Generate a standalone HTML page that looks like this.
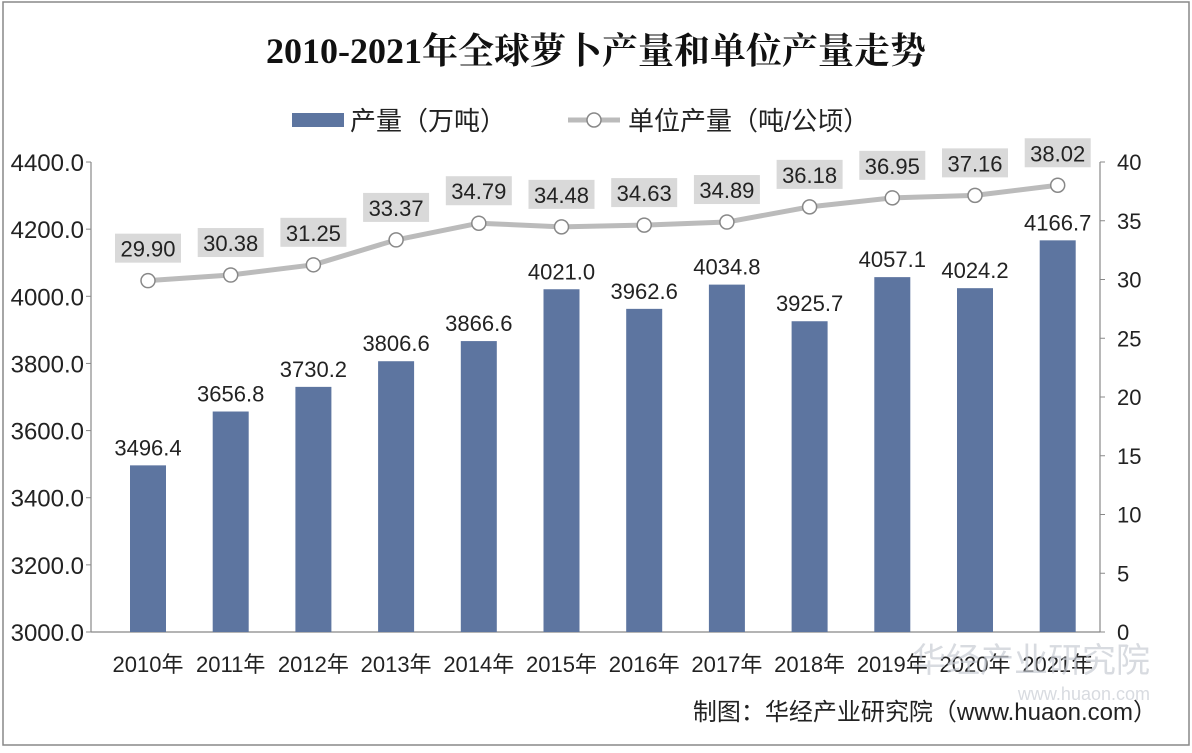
<!DOCTYPE html><html><head><meta charset="utf-8"><style>body{margin:0;background:#fff}</style></head><body>
<svg width="1192" height="748" xmlns="http://www.w3.org/2000/svg" font-family="Liberation Sans, Noto Sans CJK SC, sans-serif">
<rect x="3" y="2" width="1186" height="743" fill="#fff" stroke="#888" stroke-width="1.5"/>
<text x="596" y="63" text-anchor="middle" font-family="Liberation Serif, Noto Serif CJK SC, serif" font-weight="bold" font-size="36" fill="#111">2010-2021年全球萝卜产量和单位产量走势</text>
<rect x="292" y="113" width="52" height="14" fill="#5d75a0"/>
<text x="350" y="130" font-size="26" fill="#222">产量（万吨）</text>
<line x1="568" y1="120" x2="620" y2="120" stroke="#bbb" stroke-width="5"/>
<circle cx="594" cy="120" r="7" fill="#fff" stroke="#888" stroke-width="1.5"/>
<text x="628" y="130" font-size="26" fill="#222">单位产量（吨/公顷）</text>
<g stroke="#888" stroke-width="1.2">
<line x1="91" y1="162" x2="91" y2="632"/><line x1="91" y1="632" x2="1100" y2="632"/><line x1="1100" y1="162" x2="1100" y2="632"/>
</g>
<g font-size="24" fill="#222" text-anchor="end" id="la"></g>
<g font-size="22" fill="#222" id="ra"></g>
<g id="bars"></g>
<g id="line"></g>
<g font-size="22" fill="#222" id="xl"></g>
<text x="1157" y="720" text-anchor="end" font-size="24" fill="#222">制图：华经产业研究院（www.huaon.com）</text>
<text x="1150" y="672" text-anchor="end" font-size="34" fill="#c8ccd4" opacity="0.7">华经产业研究院</text>
<text x="1150" y="700" text-anchor="end" font-size="18" fill="#c8ccd4" opacity="0.7">www.huaon.com</text>
</svg>
<script>
const NS="http://www.w3.org/2000/svg";
function el(p,t,a,txt){const e=document.createElementNS(NS,t);for(const k in a)e.setAttribute(k,a[k]);if(txt!=null)e.textContent=txt;document.getElementById(p).appendChild(e);return e;}
for(let v=3000;v<=4400;v+=200){const y=632-(v-3000)*0.3357;el("la","text",{x:84,y:y+9},v.toFixed(1));el("la","line",{x1:86,y1:y,x2:91,y2:y,stroke:"#888"});}
for(let v=0;v<=40;v+=5){const y=632-v*11.75;el("ra","text",{x:1117,y:y+8},v);el("ra","line",{x1:1100,y1:y,x2:1105,y2:y,stroke:"#888"});}
const P=[3496.4,3656.8,3730.2,3806.6,3866.6,4021.0,3962.6,4034.8,3925.7,4057.1,4024.2,4166.7];
const U=[29.90,30.38,31.25,33.37,34.79,34.48,34.63,34.89,36.18,36.95,37.16,38.02];
let pts=[];
P.forEach((v,i)=>{const cx=148+i*82.7;const y=632-(v-3000)*0.3357;
el("bars","rect",{x:cx-18,y:y,width:36,height:632-y,fill:"#5d75a0"});
el("bars","text",{x:cx,y:y-10,"text-anchor":"middle","font-size":22,fill:"#222"},v.toFixed(1));
el("xl","text",{x:cx,y:672,"text-anchor":"middle"},(2010+i)+"年");
pts.push([cx,632-U[i]*11.75]);});
el("line","polyline",{points:pts.map(p=>p.join(",")).join(" "),fill:"none",stroke:"#bbb","stroke-width":5,"stroke-linejoin":"round"});
pts.forEach((p,i)=>{el("line","circle",{cx:p[0],cy:p[1],r:7,fill:"#fff",stroke:"#888","stroke-width":1.5});
el("line","rect",{x:p[0]-33,y:p[1]-47,width:66,height:29,fill:"#d9d9d9"});
el("line","text",{x:p[0],y:p[1]-24,"text-anchor":"middle","font-size":22,fill:"#222"},U[i].toFixed(2));});
</script>
</body></html>
